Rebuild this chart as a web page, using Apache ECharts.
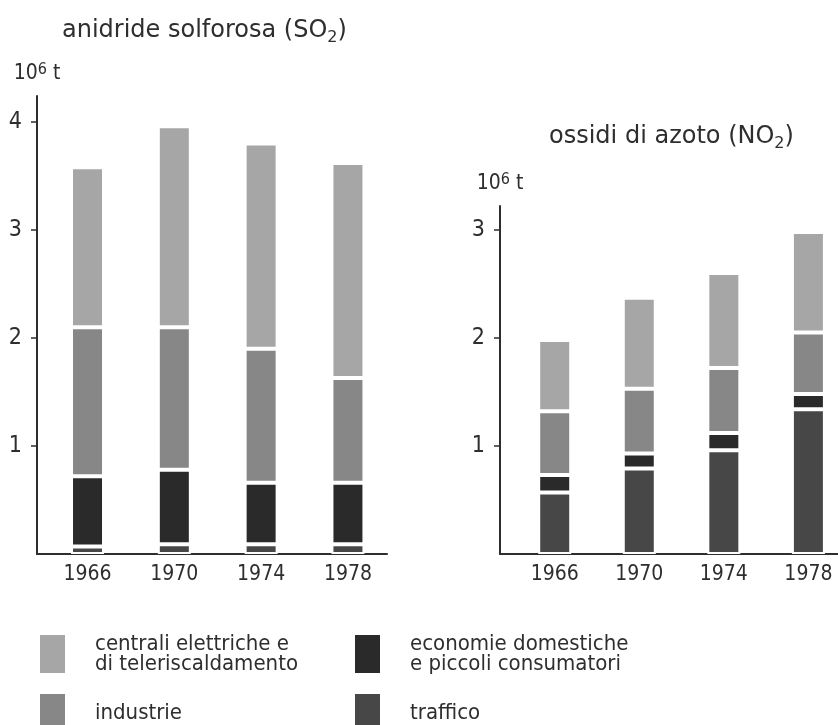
<!DOCTYPE html>
<html>
<head>
<meta charset="utf-8">
<script src="https://cdn.jsdelivr.net/npm/echarts@6/dist/echarts.min.js"></script>
<style>
  html, body { margin: 0; padding: 0; background: #fff; }
  #chart { width: 838px; height: 725px; }
</style>
</head>
<body>
<div id="chart"></div>
<script>
// Survey years on the horizontal axes
const years = ['1966', '1970', '1974', '1978'];

// Emission sources
const sourceNames = [
  'centrali elettriche e\ndi teleriscaldamento',
  'industrie',
  'economie domestiche\ne piccoli consumatori',
  'traffico'
];

// Sulphur dioxide, 10^6 t per source
const so2Centrali   = [1.48, 1.86, 1.90, 1.99];
const so2Industrie  = [1.38, 1.32, 1.24, 0.97];
const so2Domestiche = [0.65, 0.69, 0.57, 0.57];
const so2Traffico   = [0.07, 0.09, 0.09, 0.09];

// Nitrogen oxides, 10^6 t per source
const no2Centrali   = [0.66, 0.84, 0.88, 0.93];
const no2Industrie  = [0.59, 0.60, 0.60, 0.57];
const no2Domestiche = [0.16, 0.14, 0.16, 0.14];
const no2Traffico   = [0.57, 0.79, 0.96, 1.34];

// Labelled ticks on the value axes
const so2Ticks = [1, 2, 3, 4];
const no2Ticks = [1, 2, 3];
const yearPositions = [0, 1, 2, 3];

const sourceColors = ['#a6a6a6', '#878787', '#2a2a2a', '#474747'];

const ink = '#2e2e2e';
const axisFont = '"DejaVu Sans Condensed", "Open Sans", sans-serif';
const titleFont = '"DejaVu Sans", sans-serif';
const legendFont = '"DejaVu Sans Condensed", sans-serif';

function titleRich() {
  return {
    m: { fontFamily: titleFont, fontWeight: 'normal', fontSize: 24, lineHeight: 30, color: ink },
    s: { fontFamily: titleFont, fontWeight: 'normal', fontSize: 16, lineHeight: 16, color: ink, verticalAlign: 'bottom' }
  };
}

function xAxisFor(gridIndex, min, max) {
  return {
    type: 'value',
    gridIndex,
    min, max,
    splitLine: { show: false },
    axisLine: { show: true, onZero: false, lineStyle: { color: ink, width: 2 } },
    axisTick: { show: false },
    axisLabel: {
      customValues: yearPositions,
      formatter: v => years[Math.round(v)],
      margin: 10,
      fontFamily: axisFont,
      fontSize: 21,
      color: ink
    }
  };
}

function yAxisFor(gridIndex, max, ticks) {
  return {
    type: 'value',
    gridIndex,
    min: 0,
    max,
    name: '{m|10}{p|6}{m| t}',
    nameLocation: 'end',
    nameGap: 10,
    nameTextStyle: {
      rich: {
        m: { fontFamily: axisFont, fontSize: 21, lineHeight: 24, color: ink },
        p: { fontFamily: axisFont, fontSize: 16, lineHeight: 14, color: ink, verticalAlign: 'top' }
      }
    },
    splitLine: { show: false },
    axisLine: { show: true, onZero: false, lineStyle: { color: ink, width: 2 } },
    axisTick: { show: true, customValues: ticks, length: 6, lineStyle: { color: ink, width: 1.5 } },
    axisLabel: {
      customValues: ticks,
      margin: 15,
      fontFamily: axisFont,
      fontSize: 23,
      color: ink
    }
  };
}

// One stacked bar column per year; the stack runs bottom to top:
// traffico, economie domestiche, industrie, centrali elettriche.
function buildSeries() {
  const order = [3, 2, 1, 0];
  const so2 = [so2Centrali, so2Industrie, so2Domestiche, so2Traffico];
  const no2 = [no2Centrali, no2Industrie, no2Domestiche, no2Traffico];
  const out = [];
  [[0, 'so2', so2], [1, 'no2', no2]].forEach(([g, stack, sets]) => {
    order.forEach(k => {
      out.push({
        name: sourceNames[k],
        type: 'bar',
        stack,
        xAxisIndex: g,
        yAxisIndex: g,
        barWidth: 33,
        // value first so the stack is accumulated on the vertical axis
        dimensions: ['amount', 'year'],
        encode: { x: 'year', y: 'amount' },
        itemStyle: { color: sourceColors[k], borderColor: '#fff', borderWidth: 2 },
        emphasis: { disabled: true },
        data: sets[k].map((v, i) => [v, yearPositions[i]])
      });
    });
  });
  return out;
}

function legendFor(names, left) {
  return {
    data: names,
    orient: 'vertical',
    left, top: 633,
    height: 110,
    padding: 0,
    itemWidth: 25, itemHeight: 38, itemGap: 19,
    icon: 'rect',
    selectedMode: false,
    itemStyle: { borderWidth: 0 },
    textStyle: { fontFamily: legendFont, fontSize: 22, lineHeight: 20, color: ink, padding: [0, 0, 0, 25] }
  };
}

const chart = echarts.init(document.getElementById('chart'), null, { renderer: 'canvas' });

chart.setOption({
  animation: false,
  backgroundColor: '#fff',
  title: [
    {
      text: '{m|anidride solforosa (SO}{s|2}{m|)}',
      left: 62, top: 16, padding: 0,
      textStyle: { rich: titleRich() }
    },
    {
      text: '{m|ossidi di azoto (NO}{s|2}{m|)}',
      left: 549, top: 122, padding: 0,
      textStyle: { rich: titleRich() }
    }
  ],
  grid: [
    { left: 37, right: 451, top: 96, bottom: 171 },
    { left: 500, right: 0, top: 206, bottom: 171 }
  ],
  xAxis: [
    xAxisFor(0, -0.582, 3.45),
    xAxisFor(1, -0.647, 3.35)
  ],
  yAxis: [
    yAxisFor(0, 4.24, so2Ticks),
    yAxisFor(1, 3.22, no2Ticks)
  ],
  legend: [
    legendFor([sourceNames[0], sourceNames[1]], 40),
    legendFor([sourceNames[2], sourceNames[3]], 355)
  ],
  series: buildSeries()
});
</script>
</body>
</html>
